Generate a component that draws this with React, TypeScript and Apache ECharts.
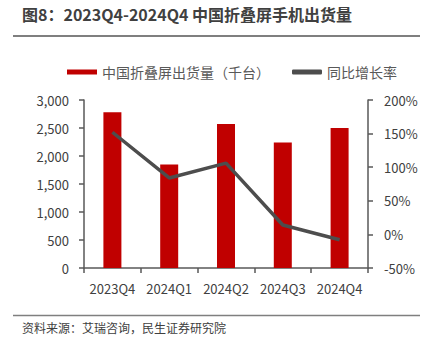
import React, { useEffect, useRef } from "react";
import * as echarts from "echarts";

const categories = ["2023Q4", "2024Q1", "2024Q2", "2024Q3", "2024Q4"];
const shipments = [2780, 1850, 2570, 2240, 2500];
const growth = [152, 84, 106, 14, -8];
const leftTicks = [0, 500, 1000, 1500, 2000, 2500, 3000];
const rightTicks = [-50, 0, 50, 100, 150, 200];

const FONT = "'Noto Sans CJK SC', 'Noto Sans', sans-serif";

export default function App() {
  const ref = useRef<HTMLDivElement>(null);
  useEffect(() => {
    if (!ref.current) return;
    const chart = echarts.init(ref.current, undefined, { renderer: "svg" });
    const axisColor = "#595959";
    chart.setOption({
      animation: false,
      backgroundColor: "#ffffff",
      textStyle: { fontFamily: FONT },
      graphic: [
        {
          type: "text",
          left: 22,
          top: 6,
          style: {
            text: "图8：2023Q4-2024Q4 中国折叠屏手机出货量",
            fontSize: 16,
            fontWeight: "bold",
            fill: "#404040",
            fontFamily: FONT,
          },
        },
        {
          type: "line",
          shape: { x1: 13, y1: 36, x2: 420, y2: 36 },
          style: { stroke: "#7f7f7f", lineWidth: 2 },
        },
        {
          type: "line",
          shape: { x1: 13, y1: 315.5, x2: 420, y2: 315.5 },
          style: { stroke: "#7f7f7f", lineWidth: 1.5 },
        },
        {
          type: "text",
          left: 22,
          top: 321,
          style: {
            text: "资料来源：艾瑞咨询，民生证券研究院",
            fontSize: 12,
            fill: "#404040",
            fontFamily: FONT,
          },
        },
      ],
      legend: {
        top: 60,
        left: 62,
        itemWidth: 30,
        itemHeight: 5,
        itemGap: 22,
        textStyle: { fontSize: 14, color: "#595959", fontFamily: FONT },
        data: [
          { name: "中国折叠屏出货量（千台）", icon: "rect" },
          { name: "同比增长率", icon: "roundRect", itemStyle: { color: "#4d4d4d" } },
        ],
      },
      grid: { left: 84, right: 64, top: 100, bottom: 77, containLabel: false },
      xAxis: {
        type: "category",
        data: categories,
        axisLine: { lineStyle: { color: axisColor, width: 1.5 } },
        axisTick: { show: true, length: 5, lineStyle: { color: axisColor, width: 1.5 } },
        axisLabel: { fontSize: 13, color: "#404040", margin: 14, interval: 0, fontFamily: FONT },
      },
      yAxis: [
        {
          type: "value",
          min: 0,
          max: 3000,
          interval: 500,
          axisLine: { show: true, lineStyle: { color: axisColor, width: 1.5 } },
          axisTick: { show: true, length: 5, lineStyle: { color: axisColor, width: 1.5 } },
          splitLine: { show: false },
          axisLabel: {
            fontSize: 13,
            color: "#404040",
            margin: 15,
            fontFamily: FONT,
            formatter: (v: number) =>
              leftTicks.includes(v) ? v.toLocaleString("en-US") : "",
          },
        },
        {
          type: "value",
          min: -50,
          max: 200,
          interval: 50,
          position: "right",
          axisLine: { show: true, lineStyle: { color: axisColor, width: 1.5 } },
          axisTick: { show: true, length: 5, lineStyle: { color: axisColor, width: 1.5 } },
          splitLine: { show: false },
          axisLabel: {
            fontSize: 13,
            color: "#404040",
            margin: 16,
            fontFamily: FONT,
            formatter: (v: number) => (rightTicks.includes(v) ? v + "%" : ""),
          },
        },
      ],
      series: [
        {
          name: "中国折叠屏出货量（千台）",
          type: "bar",
          data: shipments,
          barWidth: 18,
          itemStyle: { color: "#c00000" },
          yAxisIndex: 0,
        },
        {
          name: "同比增长率",
          type: "line",
          data: growth,
          yAxisIndex: 1,
          symbol: "none",
          lineStyle: { color: "#4d4d4d", width: 3.5 },
          itemStyle: { color: "#4d4d4d" },
        },
      ],
    });
    return () => chart.dispose();
  }, []);
  return (
    <div
      ref={ref}
      style={{ position: "fixed", left: 0, top: 0, width: 432, height: 345 }}
    />
  );
}
